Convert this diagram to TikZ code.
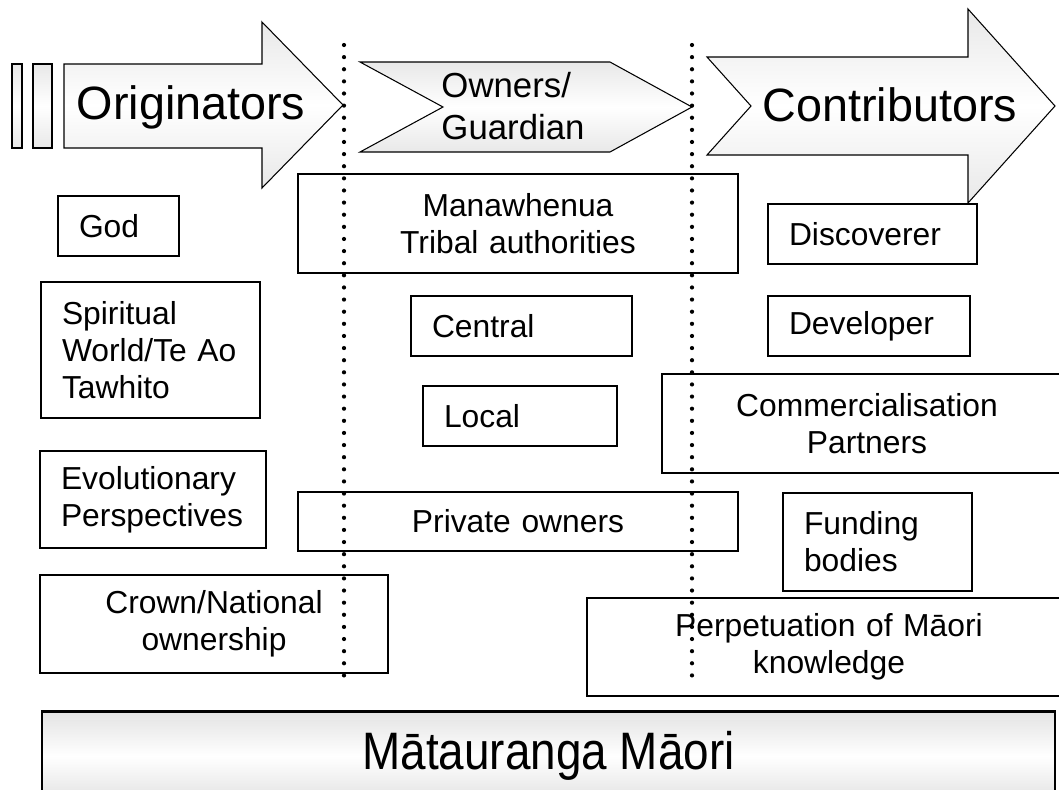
\documentclass[tikz,border=0pt]{standalone}
\usepackage{fontspec}
\setmainfont{Liberation Sans}
\newfontfamily\narrowsans[FakeStretch=0.87]{Liberation Sans}

\begin{document}
\begin{tikzpicture}[x=0.02cm, y=-0.02cm,
    box/.style={draw, line width=0.8pt, fill=white, inner xsep=0.42cm, inner ysep=0pt, font=\fontsize{18.1}{21}\selectfont},
    lbox/.style={box, align=left},
    cbox/.style={box, align=center},
    banner/.style={draw, line width=0.6pt, top color=gray!18, bottom color=gray!18, middle color=white},
    sep/.style={line width=2.4pt, line cap=round, dash pattern=on 0pt off 6.9pt}]

    \path[use as bounding box, clip] (0,0) rectangle (1059,789);

    % the three stages
    \draw[banner] (12,64) rectangle (22,148);
    \draw[banner] (33,64) rectangle (52,148);
    \draw[banner] (64,64) -- (262,64) -- (262,22) -- (343,105) -- (262,188) -- (262,148) -- (64,148) -- cycle;
    \node[font=\fontsize{26.6}{30}\selectfont, anchor=base] (orig) at (191,119) {Originators};

    \draw[banner] (360,62) -- (610,62) -- (692,107) -- (610,152) -- (360,152) -- (443,107) -- cycle;
    \node[font=\fontsize{19.8}{24.4}\selectfont, align=left] (owners) at (513,106) {Owners/\\Guardian};

    \draw[banner] (707,57) -- (968,57) -- (968,9) -- (1055,106) -- (968,203) -- (968,155) -- (707,155) -- (751,106) -- cycle;
    \node[font=\fontsize{26.6}{30}\selectfont, anchor=base] (contrib) at (890,121) {Contributors};

    % originators
    \node[lbox, text width=1.58cm, minimum height=1.2cm] (god) at (118.5,226) {God};
    \node[lbox, text width=3.54cm, minimum height=2.72cm] (spirit) at (150.5,350) {Spiritual\\World/Te~Ao\\Tawhito};
    \node[lbox, text width=3.68cm, minimum height=1.94cm] (evol) at (153,499.5) {Evolutionary\\Perspectives};
    \node[cbox, text width=6.12cm, minimum height=1.96cm] (crown) at (214,624) {Crown/National\\ownership};

    % owners
    \node[cbox, text width=7.96cm, minimum height=1.98cm] (mana) at (518,223.5) {Manawhenua\\Tribal authorities};
    \node[lbox, text width=3.58cm, minimum height=1.2cm] (central) at (521.5,326) {Central};
    \node[lbox, text width=3.04cm, minimum height=1.2cm] (local) at (520,416) {Local};
    \node[cbox, text width=7.96cm, minimum height=1.18cm] (private) at (518,521.5) {Private owners};

    % contributors
    \node[lbox, text width=3.34cm, minimum height=1.2cm] (disc) at (872.5,234) {Discoverer};
    \node[lbox, text width=3.20cm, minimum height=1.2cm] (dev) at (869,326) {Developer};
    \node[cbox, text width=7.36cm, minimum height=1.98cm] (comm) at (867,423.5) {Commercialisation\\Partners};
    \node[lbox, text width=2.94cm, minimum height=1.96cm] (fund) at (877.5,542) {Funding\\bodies};
    \node[cbox, text width=8.84cm, minimum height=1.96cm] (perp) at (829,647) {Perpetuation of Māori\\knowledge};

    \draw[sep] (344,45) -- (344,684);
    \draw[sep] (692,45) -- (692,684);

    \node[draw, line width=1.4pt, top color=gray!22, bottom color=gray!22, middle color=white,
          minimum width=20.26cm, minimum height=1.78cm, font=\narrowsans\fontsize{30}{34}\selectfont]
          (matauranga) at (548.5,756) {Mātauranga Māori};

\end{tikzpicture}
\end{document}
